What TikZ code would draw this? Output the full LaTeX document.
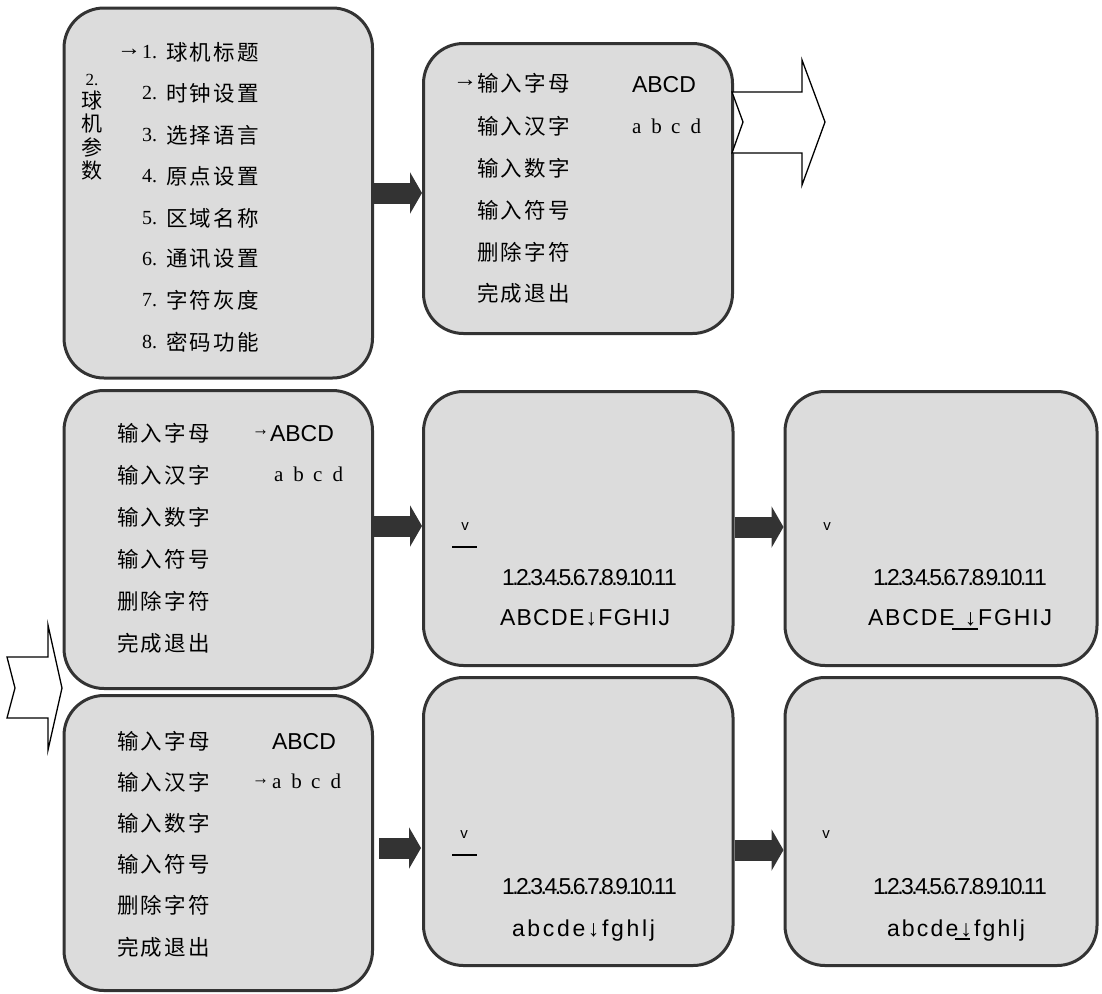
\documentclass[tikz,border=0pt]{standalone}
\usepackage{fontspec}
\setmainfont{Liberation Serif}
\newfontfamily\cjk{Noto Sans CJK SC}
\newfontfamily\arial{Liberation Sans}
\usetikzlibrary{arrows.meta}
\definecolor{boxfill}{RGB}{220,220,220}
\definecolor{boxline}{RGB}{51,51,51}
\definecolor{darkc}{RGB}{51,51,51}
\makeatletter
\newcommand\spr[2]{\makebox[#1][s]{\expandafter\spr@a#2\relax}}
\def\spr@a#1{\ifx#1\relax\else#1\expandafter\spr@b\fi}
\def\spr@b#1{\ifx#1\relax\else\hss#1\expandafter\spr@b\fi}
\makeatother
\newcommand\abcd{\makebox[19.5pt][l]{a}\makebox[19.5pt][l]{b}\makebox[19.5pt][l]{c}d}
\begin{document}
\begin{tikzpicture}[x=1pt,y=-1pt,
  box/.style={draw=boxline, line width=3pt, fill=boxfill, rounded corners=40pt, inner sep=0pt, anchor=north west},
  txt/.style={inner sep=0pt, outer sep=0pt},
  cjkrow/.style={txt, anchor=west, font=\cjk\fontsize{21.5}{22}\selectfont},
  numtxt/.style={txt, anchor=west, font=\fontsize{20}{20}\selectfont},
  bigarr/.style={txt, anchor=east, font=\fontsize{22}{22}\selectfont},
  smallarr/.style={txt, anchor=east, font=\arial\fontsize{19}{19}\selectfont},
  latin/.style={txt, anchor=base west, font=\arial\fontsize{23}{23}\selectfont},
  serifl/.style={txt, anchor=base west, font=\fontsize{21}{21}\selectfont},
  vmark/.style={txt, font=\arial\fontsize{15}{15}\selectfont},
  uline/.style={draw=black, line width=1.8pt},
  hollow/.style={draw=black, line width=1.3pt, fill=white, line join=miter},
  darkconn/.style={draw=darkc, line width=21pt, -{Triangle[length=12pt,width=41pt]}}
]
\useasboundingbox (0,0) rectangle (1102,993);

% boxes
\node[box, minimum width=308.5pt, minimum height=370pt] (b1) at (62.5,6.5) {};
\node[box, minimum width=309pt, minimum height=290pt] (b2) at (422,42) {};
\node[box, minimum width=308.5pt, minimum height=298pt] (b3) at (62.5,389) {};
\node[box, minimum width=309.5pt, minimum height=274pt] (b4) at (422,390) {};
\node[box, minimum width=312pt, minimum height=274pt] (b5) at (783.5,390) {};
\node[box, minimum width=308.5pt, minimum height=295pt] (b6) at (62.5,694) {};
\node[box, minimum width=309.5pt, minimum height=288pt] (b7) at (422,676) {};
\node[box, minimum width=312pt, minimum height=288pt] (b8) at (783.5,676) {};

% box 1
\node[txt, align=center, font=\cjk\fontsize{21}{23.3}\selectfont] (b1lab) at (92,127)
  {{\rmfamily\fontsize{17}{23.3}\selectfont 2.}\\球\\机\\参\\数};
\node[bigarr] (b1arr) at (141,52) {\resizebox{24pt}{\height}{→}};
\foreach \i/\y/\t in {1/52/球机标题,2/93/时钟设置,3/135/选择语言,4/176/原点设置,5/218/区域名称,6/259/通讯设置,7/300/字符灰度,8/342/密码功能}{
  \node[numtxt] (b1n\i) at (142,\y) {\i.};
  \node[cjkrow] (b1t\i) at (166,\y) {\spr{93pt}{\t}};
}

% box 2
\node[bigarr] (b2arr) at (477,83) {\resizebox{24pt}{\height}{→}};
\foreach \i/\y/\t in {1/83/输入字母,2/126/输入汉字,3/168/输入数字,4/210/输入符号,5/252/删除字符,6/293/完成退出}{
  \node[cjkrow] (b2t\i) at (477,\y) {\spr{93pt}{\t}};
}
\node[latin] (b2up) at (632,92) {ABCD};
\node[serifl] (b2lo) at (632,133) {\abcd};

% box 3
\foreach \i/\y/\t in {1/433/输入字母,2/475/输入汉字,3/517/输入数字,4/559/输入符号,5/601/删除字符,6/643/完成退出}{
  \node[cjkrow] (b3t\i) at (117,\y) {\spr{93pt}{\t}};
}
\node[smallarr] (b3arr) at (269,433) {\resizebox{17pt}{\height}{→}};
\node[latin] (b3up) at (270,441) {ABCD};
\node[serifl] (b3lo) at (274,481) {\abcd};

% box 6
\foreach \i/\y/\t in {1/741/输入字母,2/782/输入汉字,3/823/输入数字,4/864/输入符号,5/905/删除字符,6/947/完成退出}{
  \node[cjkrow] (b6t\i) at (117,\y) {\spr{93pt}{\t}};
}
\node[latin] (b6up) at (272,749) {ABCD};
\node[smallarr] (b6arr) at (269,782) {\resizebox{17pt}{\height}{→}};
\node[serifl] (b6lo) at (272,788) {\abcd};

% box 4
\node[vmark] (b4v) at (465,527) {v};
\coordinate (b4ua) at (452,547);
\coordinate (b4ub) at (477,547);
\draw[uline] (b4ua) -- (b4ub);
\node[latin] (b4num) at (502,585) {\spr{175pt}{1.2.3.4.5.6.7.8.9.10.11}};
\node[latin] (b4str) at (500,625) {\spr{170pt}{ABCDE↓FGHIJ}};

% box 5
\node[vmark] (b5v) at (827,527) {v};
\node[latin] (b5num) at (873,585) {\spr{174pt}{1.2.3.4.5.6.7.8.9.10.11}};
\node[latin] (b5str) at (868,625) {\spr{184pt}{ABCDE{\ }↓FGHIJ}};
\coordinate (b5ua) at (952,629);
\coordinate (b5ub) at (978,629);
\draw[uline] (b5ua) -- (b5ub);

% box 7
\node[vmark] (b7v) at (464,835) {v};
\coordinate (b7ua) at (452,855);
\coordinate (b7ub) at (477,855);
\draw[uline] (b7ua) -- (b7ub);
\node[latin] (b7num) at (502,894) {\spr{175pt}{1.2.3.4.5.6.7.8.9.10.11}};
\node[latin] (b7str) at (512,936) {\spr{143pt}{abcde↓fghlj}};

% box 8
\node[vmark] (b8v) at (826,835) {v};
\node[latin] (b8num) at (873,894) {\spr{174pt}{1.2.3.4.5.6.7.8.9.10.11}};
\node[latin] (b8str) at (887,936) {\spr{138pt}{abcde↓fghlj}};
\coordinate (b8ua) at (955,939);
\coordinate (b8ub) at (970,939);
\draw[uline] (b8ua) -- (b8ub);

% dark connectors
\coordinate (y1) at (0,193);
\coordinate (y2) at (0,526);
\coordinate (y3) at (0,527);
\coordinate (y4) at (0,848);
\coordinate (y5) at (0,850);
\coordinate (s4) at ([xshift=5pt]b6.east);
\coordinate (e4) at ([xshift=-1pt]b7.west);
\draw[darkconn] (b1.east |- y1) -- (b2.west |- y1);
\draw[darkconn] (b3.east |- y2) -- (b4.west |- y2);
\draw[darkconn] (b4.east |- y3) -- (b5.west |- y3);
\draw[darkconn] (s4 |- y4) -- (e4 |- y4);
\draw[darkconn] (b7.east |- y5) -- (b8.west |- y5);

% hollow arrows
\draw[hollow] (732,92) -- (802,92) -- (802,60) -- (825,122) -- (802,185) -- (802,153) -- (732,153) -- (743,122) -- cycle;
\draw[hollow] (7,657) -- (48,657) -- (48,625) -- (62,688) -- (48,750) -- (48,718) -- (7,718) -- (15,688) -- cycle;
\end{tikzpicture}
\end{document}
